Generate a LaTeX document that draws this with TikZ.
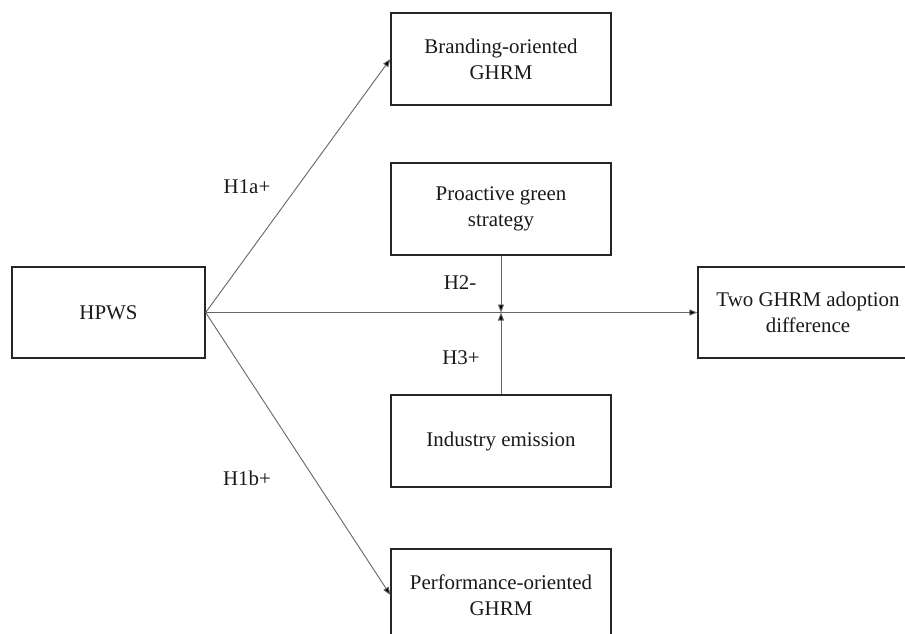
\documentclass[tikz,border=0pt]{standalone}
\usepackage{fontspec}
\setmainfont{Liberation Serif}
\usetikzlibrary{arrows.meta}
\begin{document}
\begin{tikzpicture}[x=1pt,y=-1pt,
  boxnode/.style={draw=black!85,line width=1.3pt,minimum width=220pt,minimum height=92pt,
    align=center,inner sep=0pt,font=\fontsize{20.9}{26}\selectfont,text=black!90},
  conn/.style={draw=black!60,line width=0.9pt,-{Triangle[length=8pt,width=6pt,fill=black]}},
  lbl/.style={font=\fontsize{20.9}{26}\selectfont,text=black!90,inner sep=0pt}]
\useasboundingbox (0,0) rectangle (905,633);
\begin{scope}
\clip (0,0) rectangle (905,633);
\node[boxnode,minimum width=193pt,minimum height=91pt] (hpws) at (108.5,312.5) {HPWS};
\node[boxnode] (brand) at (501,59) {Branding-oriented\\GHRM};
\node[boxnode] (pro) at (501,209) {Proactive green\\strategy};
\node[boxnode] (ind) at (501,441) {Industry emission};
\node[boxnode] (perf) at (501,595) {Performance-oriented\\GHRM};
\node[boxnode,minimum height=91pt] (two) at (808,312.5) {Two GHRM adoption\\difference};
\coordinate (mid) at (501,312.5);
\draw[conn] (hpws.east) -- (brand.west);
\draw[conn] (hpws.east) -- (perf.west);
\draw[conn] (hpws.east) -- (two.west);
\draw[conn] (pro.south) -- (mid);
\draw[conn] (ind.north) -- (mid);
\node[lbl] (h1a) at (247,187) {H1a+};
\node[lbl] (h1b) at (247,478) {H1b+};
\node[lbl] (h2) at (460,283) {H2-};
\node[lbl] (h3) at (461,358) {H3+};
\end{scope}
\end{tikzpicture}
\end{document}
